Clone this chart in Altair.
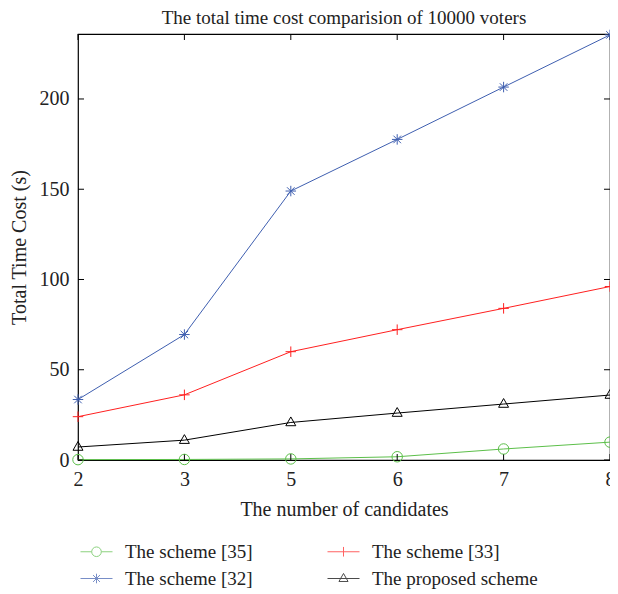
import altair as alt
import pandas as pd

candidates = ["2", "3", "5", "6", "7", "8"]
series_names = ["The scheme [35]", "The scheme [32]", "The scheme [33]", "The proposed scheme"]
s35 = [0.2, 0.3, 0.6, 1.8, 6.1, 9.9]
s32 = [33.5, 69.5, 149.0, 177.6, 206.6, 235.5]
s33 = [24.0, 36.1, 60.0, 72.2, 84.0, 96.1]
sprop = [7.2, 11.0, 20.8, 26.0, 31.0, 36.0]
y_ticks = [0, 50, 100, 150, 200]
colors = ["#5cbf4a", "#3f5fb0", "#ff2020", "#000000"]

values = {series_names[0]: s35, series_names[1]: s32, series_names[2]: s33, series_names[3]: sprop}
rows = []
for name in series_names:
    for c, v in zip(candidates, values[name]):
        rows.append({"series": name, "n": c, "cost": v})
df = pd.DataFrame(rows)

FONT = "Liberation Serif"
W, H = 532, 426

circle = "M1,0A1,1,0,1,1,-1,0A1,1,0,1,1,1,0Z"
plus = "M-1,0H1M0,-1V1"
star = "M-1,0H1M0,-1V1M-0.72,-0.72L0.72,0.72M-0.72,0.72L0.72,-0.72"
tri = "M0,-1.05L0.95,0.62L-0.95,0.62Z"
marker_paths = [circle, star, plus, tri]

k = 0.3
d = k * 0.72
leg_circle = f"M-1,0H-{k}M{k},0H1M{k},0A{k},{k},0,1,1,-{k},0A{k},{k},0,1,1,{k},0Z"
leg_plus = f"M-1,0H1M0,-{k}V{k}"
leg_star = f"M-1,0H1M0,-{k}V{k}M-{d:.3f},-{d:.3f}L{d:.3f},{d:.3f}M-{d:.3f},{d:.3f}L{d:.3f},-{d:.3f}"
leg_tri = f"M-1,0H1M0,-{k*1.05:.3f}L{k*0.95:.3f},{k*0.62:.3f}L-{k*0.95:.3f},{k*0.62:.3f}Z"
legend_paths = [leg_circle, leg_star, leg_plus, leg_tri]

xscale = alt.Scale(type="point", domain=candidates, padding=0)
yscale = alt.Scale(domain=[0, 236], nice=False, zero=False)
x_axis = alt.Axis(title="The number of candidates", labelAngle=0, ticks=False, domain=False,
                  labelPadding=9, titlePadding=10, labelBaseline="top")
y_axis = alt.Axis(title="Total Time Cost (s)", values=y_ticks, ticks=False, domain=False,
                  grid=False, labelPadding=9, titlePadding=10)
x_enc = alt.X("n:N", scale=xscale, sort=candidates, axis=x_axis)
y_enc = alt.Y("cost:Q", scale=yscale, axis=y_axis)


def col(legend=None):
    return alt.Color("series:N", scale=alt.Scale(domain=series_names, range=colors), legend=legend)


base = alt.Chart(df)

lines = base.mark_line(strokeWidth=1).encode(x=x_enc, y=y_enc, color=col(), detail="series:N")
points = base.mark_point(filled=False, strokeWidth=1, size=110, opacity=1).encode(
    x=x_enc, y=y_enc, color=col(),
    shape=alt.Shape("series:N", scale=alt.Scale(domain=series_names, range=marker_paths), legend=None),
)

leg = alt.Legend(title=None, orient="none", legendX=2, legendY=501, columns=2, direction="vertical",
                 symbolSize=1024, symbolStrokeWidth=1, symbolFillColor="transparent",
                 labelFont=FONT, labelFontSize=19, labelColor="#222", columnPadding=72,
                 rowPadding=-6, labelOffset=12, labelLimit=300)
legend_layer = base.transform_filter("false").mark_point(filled=False, strokeWidth=1).encode(
    x=x_enc, y=y_enc,
    color=alt.Color("series:N", scale=alt.Scale(domain=series_names, range=colors), legend=leg),
    shape=alt.Shape("series:N", scale=alt.Scale(domain=series_names, range=legend_paths), legend=leg),
)

xt = pd.DataFrame({"n": candidates})
yt = pd.DataFrame({"cost": y_ticks})
xb = alt.Chart(xt).mark_rule(color="black", strokeWidth=1).encode(x=x_enc, y=alt.value(H), y2=alt.value(H - 6))
xtp = alt.Chart(xt).mark_rule(color="black", strokeWidth=1).encode(x=x_enc, y=alt.value(0), y2=alt.value(6))
yl = alt.Chart(yt).mark_rule(color="black", strokeWidth=1).encode(y=y_enc, x=alt.value(0), x2=alt.value(6))
yr = alt.Chart(yt).mark_rule(color="black", strokeWidth=1).encode(y=y_enc, x=alt.value(W), x2=alt.value(W - 6))

chart = alt.layer(lines, xb, xtp, yl, yr, points, legend_layer).resolve_scale(
    color="independent", shape="independent"
).properties(
    width=W, height=H,
    background="white",
    title=alt.Title("The total time cost comparision of 10000 voters", font=FONT, fontSize=19,
                    fontWeight="normal", color="#222", anchor="middle", offset=10, frame="group",
                    dy=10),
    autosize=alt.AutoSizeParams(type="none"),
    padding={"left": 70, "top": 26, "right": 0, "bottom": 130},
).configure_view(stroke="black", strokeWidth=1.2).configure_axis(
    labelFont=FONT, labelFontSize=20, labelColor="#222", titleFont=FONT, titleFontSize=20,
    titleFontWeight="normal", titleColor="#222"
)

chart.save("out.html", embed_options={"renderer": "svg", "actions": False})
